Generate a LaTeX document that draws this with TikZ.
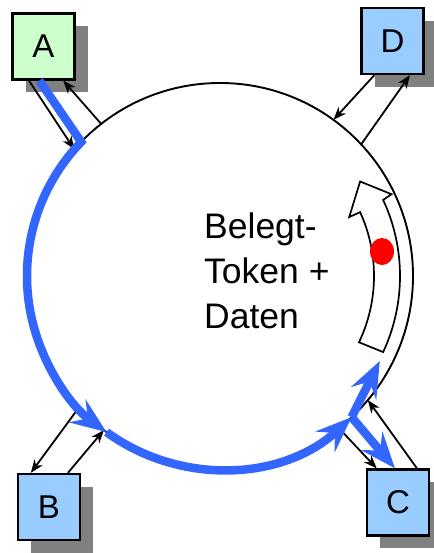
\documentclass[tikz,border=0pt]{standalone}
\usepackage{fontspec}
\setmainfont{Liberation Sans}
\usetikzlibrary{arrows.meta, shadows}
\definecolor{boxblue}{RGB}{153, 204, 255}
\definecolor{boxgreen}{RGB}{204, 255, 204}
\definecolor{tokenblue}{RGB}{51, 102, 255}

\begin{document}
\begin{tikzpicture}[x=1pt, y=1pt,
    station/.style={draw, line width=2.3pt, minimum width=62pt, minimum height=66pt,
      inner sep=0pt, font=\fontsize{33}{33}\selectfont,
      drop shadow={shadow xshift=13pt, shadow yshift=-13pt, fill=black!50, opacity=1}},
    signal/.style={-{Stealth[length=13pt, width=10pt, inset=4pt]}, line width=1.8pt},
    token/.style={-{Stealth[length=36pt, width=28pt, inset=13pt]}, line width=8.5pt, tokenblue}]
  \useasboundingbox (0,0) rectangle (433,553);
  \node[circle, draw, line width=1.9pt, minimum size=386pt, inner sep=0pt, outer sep=0pt] (ring) at (220,277) {};
  \node[station, fill=boxgreen] (A) at (43.5,506.5) {A};
  \node[station, fill=boxblue] (D) at (392.5,512) {D};
  \node[station, fill=boxblue] (B) at (49,46) {B};
  \node[station, fill=boxblue] (C) at (398,50.5) {C};

  % Senden und Empfangen
  \draw[signal] (A.-113) -- (ring.139);
  \draw[signal] (ring.128) -- (A.-60);
  \draw[signal] (D.-118) -- (ring.54);
  \draw[signal] (ring.43) -- (D.-63);
  \draw[signal] (ring.223) -- (B.118);
  \draw[signal] (B.61) -- (ring.233);
  \draw[signal] (ring.308) -- (C.122);
  \draw[signal] (C.61) -- (ring.320);

  % Weg des Tokens
  \coordinate (tokenend) at ([shift={(332:181)}]ring.center);
  \draw[token] (A.-97) -- (ring.136) arc[start angle=136, end angle=234, radius=193pt];
  \draw[token] (ring.234) arc[start angle=234, end angle=313, radius=193pt];
  \draw[token] (ring.313) -- (C.95);
  \draw[token] (ring.313) -- (tokenend);

  \begin{scope}[shift={(ring.center)}]
    \draw[line width=1.7pt, fill=white] (-25.5:154) arc[start angle=-25.5, end angle=24.5, radius=154]
      -- (24.5:142) -- (34:169) -- (25.5:190) -- (25:180)
      arc[start angle=25, end angle=-25, radius=180] -- cycle;
    \fill[red] (162,24.5) ellipse[x radius=12, y radius=13.5];
  \end{scope}

  \node[anchor=north west, inner sep=0pt, align=left, font=\fontsize{35.5}{45}\selectfont] (label) at (204,340) {Belegt-\\Token +\\Daten};
\end{tikzpicture}
\end{document}
